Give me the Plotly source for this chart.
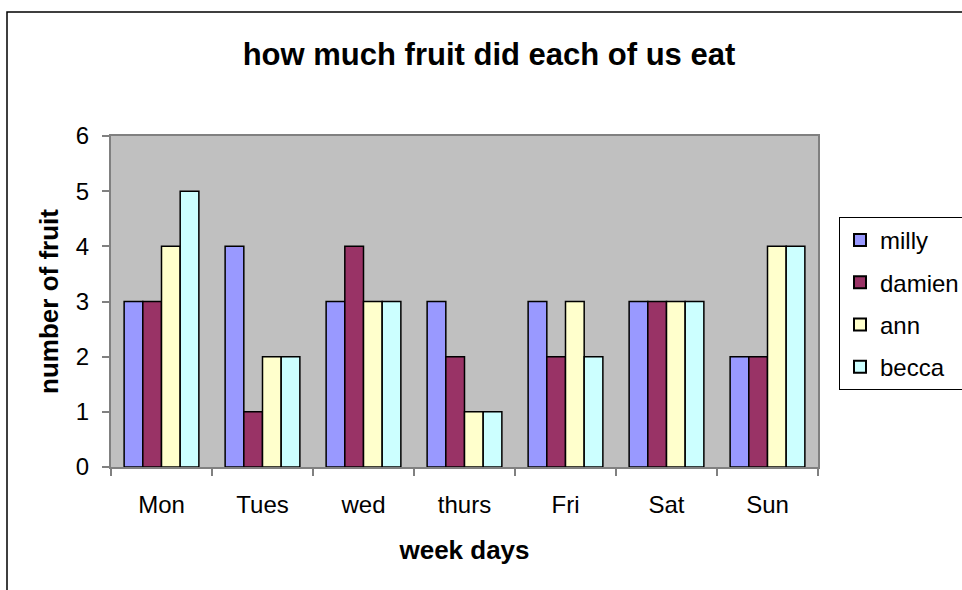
import plotly.graph_objects as go

days = ["Mon", "Tues", "wed", "thurs", "Fri", "Sat", "Sun"]
milly = [3, 4, 3, 3, 3, 3, 2]
damien = [3, 1, 4, 2, 2, 3, 2]
ann = [4, 2, 3, 1, 3, 3, 4]
becca = [5, 2, 3, 1, 2, 3, 4]

series = [("milly", milly, "#9999FF"),
          ("damien", damien, "#993366"),
          ("ann", ann, "#FFFFCC"),
          ("becca", becca, "#CCFFFF")]

FONT = "Liberation Sans, Arial, sans-serif"

fig = go.Figure()
for i, (name, vals, col) in enumerate(series):
    fig.add_trace(go.Bar(x=days, y=vals, name=name, legendgroup=str(i),
                         marker=dict(color=col, line=dict(color="black", width=1.5))))

L, R, T, B = 111, 144, 136, 123
W, H = 962 - L - R, 590 - T - B

fig.update_layout(
    width=962, height=590,
    margin=dict(l=L, r=R, t=T, b=B, autoexpand=False),
    paper_bgcolor="white", plot_bgcolor="#C0C0C0",
    font=dict(family=FONT, color="black", size=24),
    bargap=0.26, bargroupgap=0,
    title=dict(text="<b>how much fruit did each of us eat</b>", x=489 / 962, xanchor="center",
               y=1 - 54 / 590, yanchor="middle", font=dict(size=31, family=FONT)),
    legend=dict(xref="container", yref="container", x=839 / 962, xanchor="left",
                y=1 - 217 / 590, yanchor="top",
                bordercolor="black", borderwidth=1, bgcolor="white",
                font=dict(size=24, family=FONT), tracegroupgap=8,
                itemsizing="constant"),
    xaxis=dict(title=dict(text="<b>week days</b>", font=dict(size=26), standoff=24),
               tickson="boundaries", ticks="outside", ticklen=7, tickcolor="#808080",
               tickwidth=1.5, showline=True, linecolor="#808080", linewidth=2,
               mirror=True, showgrid=False, tickfont=dict(size=24),
               ticklabelstandoff=15),
    yaxis=dict(title=dict(text="<b>number of fruit</b>", font=dict(size=26), standoff=10),
               range=[0, 6], dtick=1, ticks="outside", ticklen=7, tickcolor="#808080",
               tickwidth=1.5, showline=True, linecolor="#808080", linewidth=2,
               mirror=True, showgrid=False, zeroline=False, tickfont=dict(size=24),
               ticklabelstandoff=8),
    shapes=[dict(type="rect", xref="paper", yref="paper",
                 x0=(7 - L) / W, x1=(975 - L) / W, y0=(467 - 600) / H, y1=(467 - 12) / H,
                 line=dict(color="black", width=1.5), layer="below")],
)

fig.write_html("out.html", config={"displayModeBar": False},
               post_script="document.body.style.margin='0';document.body.style.overflow='hidden';")
